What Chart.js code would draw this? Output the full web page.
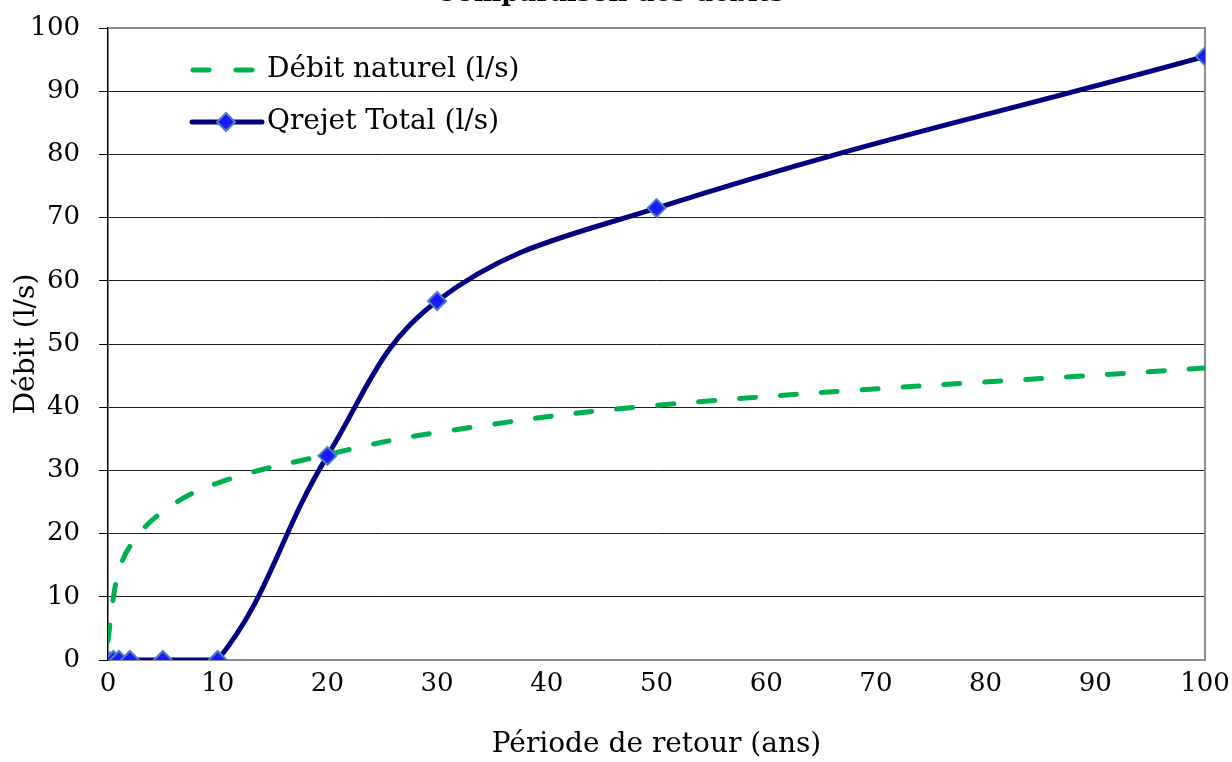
<!DOCTYPE html>
<html>
<head>
<meta charset="utf-8">
<script src="https://cdn.jsdelivr.net/npm/chart.js@4.4.1/dist/chart.umd.min.js"></script>
<style>
  html, body { margin: 0; padding: 0; background: #fff; }
  #wrap { width: 1232px; height: 762px; }
</style>
</head>
<body>
<div id="wrap"><canvas id="debitChart" width="1232" height="762"></canvas></div>
<script>
// Période de retour (ans)
var periodes = [0, 0.5, 1, 2, 5, 10, 20, 30, 50, 100];
var debitNaturel = [3, 10, 14, 18, 23.5, 28, 32.5, 36, 40.3, 46.2];
var qrejetTotal = [0, 0, 0, 0, 0, 0, 32.3, 56.8, 71.5, 95.5];
var yTicks = [0, 10, 20, 30, 40, 50, 60, 70, 80, 90, 100];
var xTicks = [0, 10, 20, 30, 40, 50, 60, 70, 80, 90, 100];

var chartTitle = 'Comparaison des débits';
var fontFamily = '"DejaVu Serif", "Liberation Serif", serif';

function toPoints(xs, ys) {
    return xs.map(function(x, i) { return { x: x, y: ys[i] }; });
}

// border top / right of the plot area (gray)
var plotBorder = {
    id: 'plotBorder',
    beforeDatasetsDraw: function(chart) {
        var a = chart.chartArea, ctx = chart.ctx;
        ctx.save();
        ctx.strokeStyle = '#8c8c8c';
        ctx.lineWidth = 2;
        ctx.beginPath();
        ctx.moveTo(a.left, a.top);
        ctx.lineTo(a.right, a.top);
        ctx.lineTo(a.right, a.bottom);
        ctx.stroke();
        ctx.restore();
    }
};

// top title, cut by the page edge like the reference
var cutTitle = {
    id: 'cutTitle',
    afterDraw: function(chart) {
        var ctx = chart.ctx;
        ctx.save();
        ctx.font = 'bold 26px ' + fontFamily;
        ctx.fillStyle = '#000';
        ctx.textAlign = 'center';
        ctx.textBaseline = 'alphabetic';
        ctx.fillText(chartTitle, 610, 1);
        ctx.restore();
    }
};

// legend drawn inside the plot
var innerLegend = {
    id: 'innerLegend',
    afterDraw: function(chart) {
        var ctx = chart.ctx;
        var rows = [70, 122];
        ctx.save();
        chart.data.datasets.forEach(function(ds, i) {
            var y = rows[i];
            ctx.strokeStyle = ds.borderColor;
            ctx.lineWidth = ds.borderWidth;
            ctx.lineCap = 'round';
            ctx.beginPath();
            if (ds.borderDash) {
                ctx.moveTo(193, y);
                ctx.lineTo(209, y);
                ctx.moveTo(236, y);
                ctx.lineTo(252, y);
            } else {
                ctx.moveTo(192, y);
                ctx.lineTo(262, y);
            }
            ctx.stroke();
            if (ds.pointRadius > 0) {
                ctx.fillStyle = ds.pointBackgroundColor;
                ctx.strokeStyle = ds.pointBorderColor;
                ctx.lineWidth = ds.pointBorderWidth;
                ctx.beginPath();
                var r = ds.pointRadius;
                ctx.moveTo(226, y - r);
                ctx.lineTo(226 + r, y);
                ctx.lineTo(226, y + r);
                ctx.lineTo(226 - r, y);
                ctx.closePath();
                ctx.fill();
                ctx.stroke();
            }
            ctx.fillStyle = '#000';
            ctx.font = '28px ' + fontFamily;
            ctx.textAlign = 'left';
            ctx.textBaseline = 'middle';
            ctx.fillText(ds.label, 267, y);
        });
        ctx.restore();
    }
};

var ctx = document.getElementById('debitChart').getContext('2d');
var debitChart = new Chart(ctx, {
    type: 'scatter',
    data: {
        datasets: [{
            label: 'Débit naturel (l/s)',
            data: toPoints(periodes, debitNaturel),
            showLine: true,
            borderColor: '#00b050',
            borderWidth: 5,
            borderDash: [16, 25],
            borderCapStyle: 'round',
            tension: 0.4,
            pointRadius: 0,
            order: 2
        }, {
            label: 'Qrejet Total (l/s)',
            data: toPoints(periodes, qrejetTotal),
            showLine: true,
            borderColor: '#000080',
            borderWidth: 5,
            tension: 0.4,
            pointStyle: 'rectRot',
            pointRadius: 9,
            pointHoverRadius: 9,
            pointBackgroundColor: '#1a1aff',
            pointBorderColor: '#4f81bd',
            pointBorderWidth: 2,
            order: 1
        }]
    },
    options: {
        responsive: false,
        animation: false,
        layout: { padding: { top: 28, right: 27, left: 0, bottom: 0 } },
        plugins: {
            legend: { display: false },
            tooltip: { enabled: false }
        },
        scales: {
            x: {
                type: 'linear',
                min: 0,
                max: 100,
                afterBuildTicks: function(axis) {
                    axis.ticks = xTicks.map(function(v) { return { value: v }; });
                },
                afterFit: function(axis) {
                    axis.height = 102;
                    axis.paddingRight = 0;
                    axis.paddingLeft = 0;
                },
                grid: { display: false, drawTicks: false },
                border: { display: true, color: '#8c8c8c', width: 2 },
                ticks: {
                    color: '#000',
                    padding: 9,
                    maxRotation: 0,
                    font: { family: fontFamily, size: 26 }
                },
                title: {
                    display: true,
                    text: 'Période de retour (ans)',
                    color: '#000',
                    padding: { top: 12, bottom: 0 },
                    font: { family: fontFamily, size: 28 }
                }
            },
            y: {
                min: 0,
                max: 100,
                afterBuildTicks: function(axis) {
                    axis.ticks = yTicks.map(function(v) { return { value: v }; });
                },
                afterFit: function(axis) {
                    axis.width = 108;
                    axis.paddingTop = 0;
                    axis.paddingBottom = 0;
                },
                grid: {
                    color: function(c) { return c.tick && c.tick.value === 100 ? '#8c8c8c' : '#1e1e1e'; },
                    lineWidth: 1,
                    tickLength: 9,
                    tickColor: '#000'
                },
                border: { display: true, color: '#000', width: 1.5 },
                ticks: {
                    color: '#000',
                    padding: 19,
                    font: { family: fontFamily, size: 26 }
                },
                title: {
                    display: true,
                    text: 'Débit (l/s)',
                    color: '#000',
                    padding: { top: 10, bottom: 0 },
                    font: { family: fontFamily, size: 28 }
                }
            }
        }
    },
    plugins: [plotBorder, innerLegend, cutTitle]
});
</script>
</body>
</html>
